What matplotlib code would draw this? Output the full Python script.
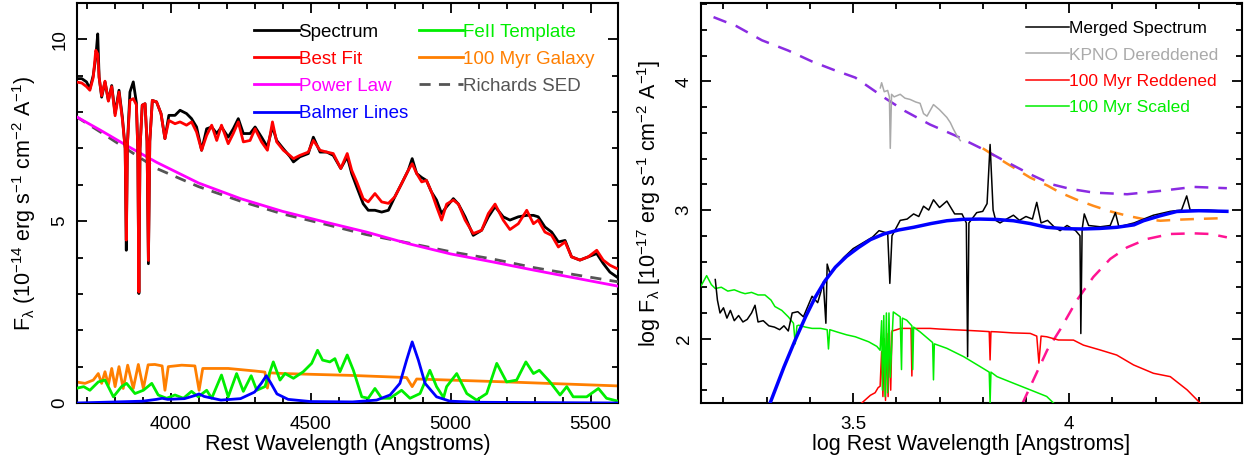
import numpy as np
import matplotlib
matplotlib.use('Agg')
import matplotlib.pyplot as plt
from matplotlib.ticker import MultipleLocator

plt.rcParams['font.family'] = ['Liberation Sans', 'DejaVu Sans']
plt.rcParams['mathtext.fontset'] = 'custom'
plt.rcParams['mathtext.rm'] = 'Liberation Sans'
plt.rcParams['mathtext.it'] = 'Liberation Sans:italic'
plt.rcParams['mathtext.default'] = 'regular'

# ---- left panel: (wavelength, spectrum, best fit) in 1e-14 erg/s/cm2/A
spec_fit = np.array([
    (3662, 8.92, 8.83), (3683, 8.92, 8.80), (3700, 8.83, 8.70), (3712, 8.64, 8.60),
    (3724, 9.01, 8.95), (3733, 9.50, 9.70), (3740, 10.15, 9.60), (3745, 8.96, 8.95),
    (3754, 8.41, 8.45), (3766, 8.83, 8.85), (3778, 8.32, 8.30), (3790, 8.73, 8.70),
    (3802, 7.96, 7.90), (3816, 8.60, 8.55), (3828, 7.86, 7.80), (3838, 7.00, 7.00),
    (3842, 4.20, 4.48), (3846, 7.10, 7.10), (3855, 8.55, 8.32), (3867, 8.83, 8.37),
    (3878, 8.26, 8.20), (3883, 7.00, 7.00), (3887, 3.01, 3.05), (3891, 7.00, 7.00),
    (3899, 8.19, 8.19), (3909, 8.23, 8.23), (3916, 7.20, 7.20), (3921, 3.83, 3.92),
    (3926, 7.20, 7.20), (3935, 8.32, 8.32), (3950, 8.28, 8.28), (3966, 7.96, 7.96),
    (3980, 7.27, 7.27), (3994, 7.91, 7.77), (4016, 7.91, 7.68), (4034, 8.05, 7.73),
    (4057, 7.96, 7.64), (4075, 7.82, 7.73), (4093, 7.59, 7.45), (4111, 6.95, 6.95),
    (4129, 7.54, 7.36), (4147, 7.59, 7.64), (4165, 7.41, 7.22), (4182, 7.59, 7.64),
    (4206, 7.31, 7.13), (4224, 7.54, 7.41), (4242, 7.82, 7.73), (4260, 7.41, 7.18),
    (4284, 7.41, 7.22), (4302, 7.59, 7.54), (4325, 7.31, 7.18), (4346, 7.04, 6.95),
    (4364, 7.60, 7.73), (4379, 7.22, 7.18), (4403, 6.99, 6.95), (4427, 6.77, 6.80),
    (4439, 6.63, 6.72), (4462, 6.77, 6.81), (4492, 6.86, 6.90), (4510, 7.31, 7.22),
    (4534, 6.90, 6.95), (4558, 6.90, 6.90), (4581, 6.81, 6.86), (4608, 6.45, 6.45),
    (4631, 6.77, 6.86), (4647, 6.31, 6.40), (4665, 5.94, 6.08), (4688, 5.48, 5.62),
    (4706, 5.30, 5.53), (4730, 5.30, 5.76), (4754, 5.25, 5.53), (4778, 5.30, 5.49),
    (4801, 5.67, 5.67), (4825, 6.03, 6.03), (4849, 6.40, 6.40), (4863, 6.72, 6.58),
    (4879, 6.31, 6.31), (4897, 6.20, 6.08), (4914, 6.12, 6.12), (4932, 5.80, 5.80),
    (4950, 5.58, 5.40), (4968, 5.21, 5.03), (4986, 5.40, 5.47), (5010, 5.62, 5.58),
    (5028, 5.47, 5.47), (5052, 5.12, 5.03), (5081, 4.61, 4.66), (5111, 4.75, 4.75),
    (5135, 5.12, 5.21), (5159, 5.40, 5.47), (5188, 5.12, 5.03), (5212, 5.03, 4.77),
    (5242, 5.12, 4.93), (5272, 5.16, 5.30), (5296, 5.16, 4.93), (5313, 5.12, 5.03),
    (5337, 4.84, 4.70), (5361, 4.70, 4.61), (5385, 4.43, 4.29), (5409, 4.47, 4.43),
    (5432, 4.02, 4.02), (5462, 3.93, 3.93), (5492, 4.02, 4.02), (5522, 4.11, 4.20),
    (5545, 3.84, 3.93), (5569, 3.60, 3.79), (5593, 3.47, 3.70),
])

pl_wave = [3662, 3750, 3850, 3950, 4100, 4250, 4400, 4550, 4700, 4850, 5000, 5150, 5300, 5450, 5600]
power_law = [7.88, 7.50, 7.05, 6.62, 6.05, 5.62, 5.27, 4.98, 4.70, 4.38, 4.10, 3.88, 3.65, 3.43, 3.21]
richards = [7.88, 7.45, 6.95, 6.45, 5.95, 5.55, 5.20, 4.92, 4.63, 4.40, 4.16, 3.96, 3.72, 3.52, 3.33]

balmer = np.array([
    (3666, 0.0), (3900, 0.05), (3950, 0.10), (3970, 0.13), (3990, 0.10), (4050, 0.12),
    (4085, 0.20), (4102, 0.25), (4120, 0.18), (4180, 0.08), (4250, 0.12), (4300, 0.30),
    (4325, 0.55), (4342, 0.75), (4358, 0.55), (4380, 0.25), (4420, 0.10), (4500, 0.04),
    (4650, 0.03), (4736, 0.08), (4784, 0.22), (4819, 0.54), (4843, 1.18), (4863, 1.68),
    (4885, 1.18), (4909, 0.54), (4950, 0.17), (4998, 0.05), (5100, 0.02), (5600, 0.0),
])

feii = np.array([
    (3662, 0.40), (3690, 0.45), (3712, 0.35), (3742, 0.58), (3766, 0.63), (3796, 0.17),
    (3825, 0.45), (3843, 0.54), (3873, 0.26), (3903, 0.35), (3933, 0.54), (3956, 0.22),
    (3986, 0.13), (4016, 0.22), (4046, 0.13), (4075, 0.32), (4099, 0.17), (4129, 0.35),
    (4147, 0.13), (4182, 0.77), (4206, 0.17), (4236, 0.81), (4260, 0.32), (4288, 0.75),
    (4308, 0.35), (4337, 0.45), (4367, 1.13), (4391, 0.63), (4409, 0.81), (4439, 0.68),
    (4474, 0.86), (4504, 1.09), (4525, 1.45), (4543, 1.18), (4569, 1.13), (4587, 1.22),
    (4605, 0.86), (4631, 1.32), (4653, 0.90), (4683, 0.17), (4706, 0.13), (4730, 0.40),
    (4754, 0.13), (4784, 0.13), (4825, 0.35), (4855, 0.13), (4891, 0.26), (4926, 0.90),
    (4950, 0.45), (4975, 0.15), (4986, 0.45), (5022, 0.81), (5058, 0.26), (5093, 0.08),
    (5129, 0.26), (5165, 1.09), (5200, 0.58), (5236, 0.63), (5269, 1.13), (5296, 0.81),
    (5317, 0.90), (5355, 0.58), (5391, 0.22), (5415, 0.45), (5438, 0.17), (5486, 0.17),
    (5528, 0.40), (5557, 0.13), (5598, 0.05),
])

galaxy = np.array([
    (3662, 0.58), (3695, 0.54), (3724, 0.63), (3742, 0.81), (3754, 0.54), (3766, 0.86),
    (3778, 0.50), (3790, 0.95), (3802, 0.45), (3816, 1.00), (3831, 0.40), (3847, 1.04),
    (3867, 0.40), (3885, 1.06), (3903, 0.40), (3920, 1.05), (3944, 1.06), (3970, 1.02),
    (3980, 0.35), (3992, 1.00), (4040, 1.04), (4087, 1.02), (4102, 0.35), (4115, 0.95),
    (4206, 0.95), (4302, 0.88), (4337, 0.85), (4346, 0.41), (4355, 0.83), (4403, 0.81),
    (4641, 0.76), (4843, 0.70), (4863, 0.45), (4879, 0.66), (4998, 0.63), (5200, 0.58),
    (5598, 0.47),
])

# ---- right panel: log wavelength vs log flux (1e-17 erg/s/cm2/A)
merged = np.array([
    (3.181, 2.46), (3.186, 2.30), (3.192, 2.20), (3.200, 2.24), (3.208, 2.16), (3.216, 2.22),
    (3.225, 2.14), (3.235, 2.18), (3.245, 2.13), (3.255, 2.15), (3.265, 2.20), (3.273, 2.26),
    (3.280, 2.13), (3.292, 2.14), (3.305, 2.10), (3.318, 2.09), (3.330, 2.07), (3.340, 2.10),
    (3.350, 2.06), (3.359, 2.20), (3.372, 2.21), (3.385, 2.17), (3.395, 2.25), (3.405, 2.33),
    (3.418, 2.28), (3.425, 2.36), (3.431, 2.44), (3.437, 2.12), (3.440, 2.58), (3.447, 2.50),
    (3.460, 2.56), (3.478, 2.63), (3.500, 2.70), (3.520, 2.74), (3.545, 2.79), (3.560, 2.84),
    (3.580, 2.82), (3.585, 2.43), (3.590, 2.80), (3.609, 2.92), (3.625, 2.93), (3.640, 2.97),
    (3.652, 2.95), (3.663, 3.03), (3.675, 3.00), (3.686, 3.08), (3.700, 3.02), (3.717, 3.07),
    (3.735, 2.97), (3.752, 2.97), (3.762, 2.90), (3.765, 1.86), (3.768, 2.90), (3.786, 2.98),
    (3.800, 2.99), (3.810, 3.05), (3.817, 3.51), (3.824, 3.00), (3.830, 2.92), (3.840, 2.90),
    (3.855, 2.93), (3.871, 2.96), (3.885, 2.92), (3.900, 2.95), (3.915, 2.93), (3.925, 3.06),
    (3.935, 2.90), (3.950, 2.92), (3.965, 2.87), (3.979, 2.84), (3.995, 2.88), (4.015, 2.84),
    (4.025, 2.80), (4.027, 2.04), (4.030, 2.85), (4.035, 2.97), (4.045, 2.88), (4.072, 2.87),
    (4.095, 2.88), (4.107, 2.98), (4.115, 2.87), (4.150, 2.90), (4.195, 2.96), (4.234, 2.99),
    (4.260, 3.00), (4.272, 3.11), (4.280, 3.00), (4.320, 3.00), (4.365, 2.99),
])

kpno = np.array([
    (3.563, 3.95), (3.566, 3.99), (3.572, 3.92), (3.580, 3.93), (3.584, 3.88), (3.586, 3.48),
    (3.589, 3.90), (3.595, 3.88), (3.609, 3.90), (3.620, 3.87), (3.632, 3.86), (3.645, 3.84),
    (3.655, 3.83), (3.663, 3.75), (3.671, 3.73), (3.686, 3.82), (3.700, 3.78), (3.717, 3.72),
    (3.725, 3.68), (3.732, 3.63), (3.740, 3.58), (3.748, 3.54),
])

reddened = np.array([
    (3.520, 1.50), (3.540, 1.56), (3.551, 1.58), (3.558, 1.62), (3.5625, 1.63), (3.566, 1.90),
    (3.569, 1.55), (3.572, 2.00), (3.575, 1.52), (3.578, 2.04), (3.581, 1.55), (3.584, 2.05),
    (3.587, 1.60), (3.590, 2.06), (3.597, 2.066), (3.610, 2.08), (3.624, 2.08), (3.634, 2.08),
    (3.636, 1.71), (3.638, 2.08), (3.660, 2.08), (3.678, 2.08), (3.700, 2.075), (3.730, 2.07),
    (3.756, 2.066), (3.790, 2.06), (3.815, 2.055), (3.817, 1.835), (3.819, 2.055), (3.833, 2.053),
    (3.870, 2.045), (3.910, 2.041), (3.925, 2.02), (3.930, 1.81), (3.935, 2.02), (3.948, 2.015),
    (3.975, 1.99), (4.010, 1.989), (4.033, 1.95), (4.072, 1.912), (4.110, 1.873), (4.149, 1.796),
    (4.195, 1.731), (4.234, 1.705), (4.273, 1.602), (4.303, 1.50),
])

scaled = np.array([
    (3.148, 2.41), (3.161, 2.49), (3.172, 2.42), (3.181, 2.39), (3.195, 2.40), (3.210, 2.37),
    (3.225, 2.38), (3.240, 2.36), (3.250, 2.35), (3.265, 2.36), (3.280, 2.34), (3.296, 2.34),
    (3.310, 2.30), (3.319, 2.25), (3.335, 2.22), (3.350, 2.17), (3.362, 2.12), (3.366, 1.96),
    (3.370, 2.10), (3.374, 2.105), (3.390, 2.09), (3.405, 2.08), (3.425, 2.08), (3.440, 2.07),
    (3.443, 1.92), (3.446, 2.07), (3.465, 2.05), (3.485, 2.03), (3.505, 2.015), (3.536, 1.976),
    (3.555, 1.94), (3.5625, 1.91), (3.566, 2.14), (3.568, 1.60), (3.571, 2.18), (3.574, 1.55),
    (3.577, 2.20), (3.580, 1.58), (3.583, 2.20), (3.586, 1.70), (3.593, 2.208), (3.609, 2.17),
    (3.612, 1.76), (3.614, 2.16), (3.624, 2.144), (3.636, 2.10), (3.638, 1.76), (3.640, 2.09),
    (3.655, 2.053), (3.684, 1.97), (3.686, 1.68), (3.688, 1.96), (3.717, 1.925), (3.756, 1.86),
    (3.794, 1.783), (3.815, 1.74), (3.817, 1.50), (3.819, 1.74), (3.833, 1.705), (3.871, 1.654),
    (3.910, 1.602), (3.948, 1.551), (3.968, 1.486),
])

blue_fit = np.array([
    (3.308, 1.50), (3.340, 1.78), (3.366, 1.99), (3.390, 2.17), (3.412, 2.32), (3.435, 2.45),
    (3.459, 2.556), (3.485, 2.64), (3.513, 2.71), (3.540, 2.77), (3.571, 2.814), (3.605, 2.845),
    (3.640, 2.866), (3.680, 2.895), (3.717, 2.917), (3.755, 2.928), (3.794, 2.930), (3.832, 2.927),
    (3.871, 2.917), (3.910, 2.895), (3.948, 2.866), (3.990, 2.855), (4.030, 2.853), (4.070, 2.857),
    (4.110, 2.866), (4.150, 2.885), (4.172, 2.917), (4.210, 2.955), (4.249, 2.989), (4.300, 2.995),
    (4.365, 2.990),
])

purple_sed = np.array([
    (3.177, 4.50), (3.230, 4.43), (3.289, 4.32), (3.350, 4.24), (3.405, 4.155), (3.455, 4.09),
    (3.505, 4.03), (3.574, 3.87), (3.620, 3.77), (3.678, 3.665), (3.736, 3.58), (3.794, 3.484),
    (3.852, 3.38), (3.910, 3.278), (3.960, 3.20), (4.002, 3.165), (4.056, 3.136), (4.134, 3.123),
    (4.211, 3.149), (4.288, 3.180), (4.365, 3.170),
])

orange_sed = np.array([
    (3.800, 3.48), (3.852, 3.37), (3.910, 3.252), (3.950, 3.19), (3.979, 3.136), (4.018, 3.08),
    (4.056, 3.033), (4.095, 2.99), (4.134, 2.956), (4.172, 2.93), (4.211, 2.917), (4.250, 2.925),
    (4.288, 2.930), (4.365, 2.938),
])

pink_sed = np.array([
    (3.891, 1.49), (3.920, 1.70), (3.949, 1.91), (3.979, 2.07), (4.018, 2.30), (4.056, 2.48),
    (4.095, 2.62), (4.134, 2.71), (4.180, 2.775), (4.234, 2.814), (4.288, 2.819), (4.327, 2.814),
    (4.365, 2.788),
])

fig = plt.figure(figsize=(12.48, 4.59), dpi=100)
ax1 = fig.add_axes([0.0617, 0.1220, 0.4335, 0.8715])
ax2 = fig.add_axes([0.5617, 0.1220, 0.4335, 0.8715])

lw = 2.0
ax1.plot(galaxy[:, 0], galaxy[:, 1], color='#FF7F00', lw=lw, zorder=2)
ax1.plot(feii[:, 0], feii[:, 1], color='#00EE00', lw=lw, zorder=3)
ax1.plot(balmer[:, 0], balmer[:, 1], color='#0000FF', lw=lw, zorder=4)
ax1.plot(pl_wave, richards, color='#555555', lw=lw, dashes=(4, 3), zorder=3)
ax1.plot(pl_wave, power_law, color='#FF00FF', lw=lw, zorder=4)
ax1.plot(spec_fit[:, 0], spec_fit[:, 1], color='black', lw=lw, zorder=5)
ax1.plot(spec_fit[:, 0], spec_fit[:, 2], color='#FF0000', lw=lw, zorder=6)

h = [
    plt.Line2D([], [], color='black', lw=lw, label='Spectrum'),
    plt.Line2D([], [], color='#FF0000', lw=lw, label='Best Fit'),
    plt.Line2D([], [], color='#FF00FF', lw=lw, label='Power Law'),
    plt.Line2D([], [], color='#0000FF', lw=lw, label='Balmer Lines'),
    plt.Line2D([], [], color='#00EE00', lw=lw, label='FeII Template'),
    plt.Line2D([], [], color='#FF7F00', lw=lw, label='100 Myr Galaxy'),
    plt.Line2D([], [], color='#555555', lw=lw, dashes=(4, 3), label='Richards SED'),
]
ax1.legend(handles=h, ncol=2, loc='upper left', bbox_to_anchor=(0.328, 0.948),
           frameon=False, fontsize=13.5, handlelength=2.35, handletextpad=0.0,
           columnspacing=0.6, labelspacing=0.53, borderpad=0, borderaxespad=0,
           labelcolor='linecolor')

ax1.set_xlim(3666, 5598)
ax1.set_ylim(0, 11)
ax1.xaxis.set_major_locator(MultipleLocator(500))
ax1.xaxis.set_minor_locator(MultipleLocator(100))
ax1.yaxis.set_major_locator(MultipleLocator(5))
ax1.yaxis.set_minor_locator(MultipleLocator(1))
ax1.set_xlabel('Rest Wavelength (Angstroms)', fontsize=15.5, labelpad=1)
ax1.set_ylabel(r'F$_{\lambda}$ (10$^{-14}$ erg s$^{-1}$ cm$^{-2}$ A$^{-1}$)', fontsize=15.5, labelpad=10)

# right panel
ax2.plot(purple_sed[:, 0], purple_sed[:, 1], color='#8A2BE2', lw=1.8, dashes=(5.5, 4), zorder=2)
ax2.plot(orange_sed[:, 0], orange_sed[:, 1], color='#FF8C1A', lw=1.8, dashes=(5.5, 4), zorder=1)
ax2.plot(pink_sed[:, 0], pink_sed[:, 1], color='#FF1493', lw=1.8, dashes=(5.5, 4), zorder=2)
ax2.plot(kpno[:, 0], kpno[:, 1], color='#AAAAAA', lw=1.1, zorder=3)
ax2.plot(reddened[:, 0], reddened[:, 1], color='#FF0000', lw=1.1, zorder=3)
ax2.plot(scaled[:, 0], scaled[:, 1], color='#00EE00', lw=1.1, zorder=4)
ax2.plot(merged[:, 0], merged[:, 1], color='black', lw=1.1, zorder=5)
ax2.plot(blue_fit[:, 0], blue_fit[:, 1], color='#0000FF', lw=2.5, zorder=6)

h2 = [
    plt.Line2D([], [], color='black', lw=1.1, label='Merged Spectrum'),
    plt.Line2D([], [], color='#AAAAAA', lw=1.1, label='KPNO Dereddened'),
    plt.Line2D([], [], color='#FF0000', lw=1.1, label='100 Myr Reddened'),
    plt.Line2D([], [], color='#00EE00', lw=1.1, label='100 Myr Scaled'),
]
ax2.legend(handles=h2, loc='upper left', bbox_to_anchor=(0.60, 0.955), frameon=False,
           fontsize=12.5, handlelength=2.5, handletextpad=0.0, labelspacing=0.65,
           borderpad=0, borderaxespad=0, labelcolor='linecolor')

ax2.set_xlim(3.148, 4.40)
ax2.set_ylim(1.5, 4.61)
ax2.xaxis.set_major_locator(MultipleLocator(0.5))
ax2.xaxis.set_minor_locator(MultipleLocator(0.1))
ax2.yaxis.set_major_locator(MultipleLocator(1))
ax2.yaxis.set_minor_locator(MultipleLocator(0.2))
ax2.set_xlabel('log Rest Wavelength [Angstroms]', fontsize=15.5, labelpad=1)
ax2.set_ylabel(r'log F$_{\lambda}$ [10$^{-17}$ erg s$^{-1}$ cm$^{-2}$ A$^{-1}$]', fontsize=15.5, labelpad=9)

for ax in (ax1, ax2):
    for s in ax.spines.values():
        s.set_linewidth(1.5)
    ax.tick_params(which='both', direction='in', top=True, right=True, width=1.3, labelsize=13.5)
    ax.tick_params(which='major', length=7)
    ax.tick_params(which='minor', length=4.5)
    ax.tick_params(axis='x', which='major', pad=9)
    ax.tick_params(axis='y', which='major', pad=6)
    for t in ax.get_yticklabels():
        t.set_rotation(90)
        t.set_va('center')

ax2.xaxis.set_major_formatter(plt.FuncFormatter(lambda v, p: f'{v:g}'))

fig.savefig('out.png', dpi=100)
